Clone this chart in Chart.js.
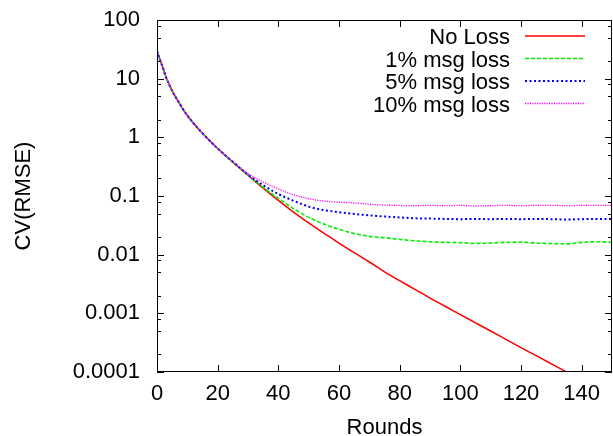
<!DOCTYPE html>
<html>
<head>
<meta charset="utf-8">
<title>CV(RMSE) vs Rounds</title>
<script src="https://cdn.jsdelivr.net/npm/chart.js@4/dist/chart.umd.min.js"></script>
<style>
  html, body { margin: 0; padding: 0; background: #fff; }
  canvas { display: block; }
</style>
</head>
<body>
<canvas id="cv" width="613" height="436"></canvas>
<script>
// ── Data ─────────────────────────────────────────────────────────
const ROUNDS = [0, 1, 2, 3, 4, 5, 7, 10, 15, 20, 25, 30, 35, 40, 45, 50, 55, 60, 65, 70,
    75, 80, 85, 90, 95, 100, 105, 110, 115, 120, 125, 130, 135, 140, 145, 150];

const NO_LOSS = [29.5, 21, 15, 10.5, 8.0, 6.2, 4.1, 2.35, 1.17, 0.646, 0.376, 0.226, 0.136,
    0.084, 0.053, 0.0347, 0.0232, 0.0158, 0.0108, 0.0075, 0.0051, 0.0036, 0.00257, 0.00182,
    0.00132, 0.00095, 0.00069, 0.00050, 0.00036, 0.00026, 0.00019, 0.000138, 0.0001,
    0.0000724, 0.0000525, 0.000038];

const LOSS_1 = [29.5, 21, 15, 10.5, 8.0, 6.2, 4.1, 2.35, 1.17, 0.646, 0.378, 0.228, 0.141,
    0.091, 0.061, 0.0432, 0.0333, 0.0271, 0.0230, 0.0205, 0.0195, 0.0182, 0.0172, 0.0166,
    0.0162, 0.0160, 0.0155, 0.0158, 0.0162, 0.0164, 0.0158, 0.0155, 0.0153, 0.0162, 0.0166,
    0.0162];

const LOSS_5 = [29.5, 21, 15, 10.5, 8.0, 6.2, 4.1, 2.35, 1.17, 0.646, 0.382, 0.232, 0.153,
    0.108, 0.083, 0.066, 0.0575, 0.053, 0.0495, 0.0468, 0.0447, 0.0432, 0.0417, 0.0412,
    0.0407, 0.0403, 0.0407, 0.0403, 0.0407, 0.0403, 0.0407, 0.0403, 0.0398, 0.0403, 0.0407,
    0.0407];

const LOSS_10 = [29.5, 21, 15, 10.5, 8.0, 6.2, 4.1, 2.35, 1.17, 0.65, 0.39, 0.242, 0.174,
    0.132, 0.105, 0.090, 0.082, 0.0785, 0.076, 0.0725, 0.070, 0.069, 0.0684, 0.0692, 0.0684,
    0.0692, 0.0676, 0.0684, 0.0692, 0.0684, 0.0692, 0.0692, 0.0684, 0.0692, 0.0692, 0.0692];

const SERIES_LABELS = ['No Loss', '1% msg loss', '5% msg loss', '10% msg loss'];

const X_TICKS = [0, 20, 40, 60, 80, 100, 120, 140];
const Y_TICKS = [0.0001, 0.001, 0.01, 0.1, 1, 10, 100];
const Y_MINOR = [2, 5, 8];

// ── Styles ───────────────────────────────────────────────────────
const FONT = '"Liberation Sans", Arial, Helvetica, sans-serif';
const STYLES = [
    { color: '#ff0000', dash: [], width: 1.5 },
    { color: '#00ee00', dash: [4, 2], width: 1.6 },
    { color: '#0000ff', dash: [2, 2.5], width: 2 },
    { color: '#ff00ff', dash: [1.2, 1.2], width: 1.3 },
];

Chart.defaults.font.family = FONT;
Chart.defaults.font.size = 22;
Chart.defaults.color = '#000';

function _points(values) {
    return ROUNDS.map((r, i) => ({ x: r, y: values[i] }));
}

// ── Plugins: gnuplot-like frame with inward ticks, right-aligned key ──
const frameTicks = {
    id: 'frameTicks',
    afterDatasetsDraw(chart) {
        const { ctx, chartArea: a, scales: { x, y } } = chart;
        ctx.save();
        ctx.strokeStyle = '#000';
        ctx.lineWidth = 1;
        ctx.strokeRect(a.left + 0.5, a.top + 0.5, a.right - a.left - 1, a.bottom - a.top - 1);
        ctx.beginPath();
        for (const v of X_TICKS) {
            const px = Math.round(x.getPixelForValue(v)) + 0.5;
            ctx.moveTo(px, a.bottom); ctx.lineTo(px, a.bottom - 7);
            ctx.moveTo(px, a.top); ctx.lineTo(px, a.top + 7);
        }
        for (const v of Y_TICKS) {
            const py = Math.round(y.getPixelForValue(v)) + 0.5;
            ctx.moveTo(a.left, py); ctx.lineTo(a.left + 7, py);
            ctx.moveTo(a.right, py); ctx.lineTo(a.right - 7, py);
        }
        for (let k = -4; k <= 1; k++) {
            for (const m of Y_MINOR) {
                const py = Math.round(y.getPixelForValue(m * Math.pow(10, k))) + 0.5;
                ctx.moveTo(a.left, py); ctx.lineTo(a.left + 4, py);
                ctx.moveTo(a.right, py); ctx.lineTo(a.right - 4, py);
            }
        }
        ctx.stroke();
        ctx.restore();
    },
};

const rightKey = {
    id: 'rightKey',
    afterDraw(chart) {
        const { ctx } = chart;
        ctx.save();
        ctx.font = '22px ' + FONT;
        ctx.textAlign = 'right';
        ctx.textBaseline = 'alphabetic';
        chart.data.datasets.forEach((ds, i) => {
            const base = 44 + i * 22.5;
            // white backing behind the key text, as in the original
            const w = ctx.measureText(ds.label).width;
            ctx.fillStyle = '#fff';
            ctx.fillRect(510 - w - 2, base - 17, w + 4, 21);
            ctx.fillStyle = '#000';
            ctx.fillText(ds.label, 510, base);
            ctx.strokeStyle = ds.borderColor;
            ctx.lineWidth = ds.borderWidth;
            ctx.setLineDash(ds.borderDash);
            ctx.beginPath();
            ctx.moveTo(525, base - 8);
            ctx.lineTo(585, base - 8);
            ctx.stroke();
        });
        ctx.restore();
    },
};

// ── Chart ────────────────────────────────────────────────────────
const SERIES = [NO_LOSS, LOSS_1, LOSS_5, LOSS_10];

new Chart(document.getElementById('cv'), {
    type: 'line',
    data: {
        datasets: SERIES.map((vals, i) => ({
            label: SERIES_LABELS[i],
            data: _points(vals),
            borderColor: STYLES[i].color,
            borderDash: STYLES[i].dash,
            borderWidth: STYLES[i].width,
            pointRadius: 0,
            fill: false,
            cubicInterpolationMode: 'monotone',
            order: 4 - i,
        })),
    },
    options: {
        responsive: false,
        animation: false,
        layout: { padding: { left: 0, right: 1, top: 20, bottom: 0 } },
        plugins: { legend: { display: false }, tooltip: { enabled: false } },
        scales: {
            x: {
                type: 'linear',
                min: 0,
                max: 150,
                grid: { display: false, drawTicks: false },
                border: { display: false },
                afterBuildTicks: s => { s.ticks = X_TICKS.map(v => ({ value: v })); },
                afterFit: s => { s.height = 64; s.paddingLeft = 0; s.paddingRight = 0; },
                ticks: { padding: 9, autoSkip: false, maxRotation: 0 },
                title: {
                    display: true,
                    text: 'Rounds',
                    font: { size: 22, lineHeight: 1 },
                    padding: { top: 0, bottom: -3 },
                },
            },
            y: {
                type: 'logarithmic',
                min: 0.0001,
                max: 100,
                grid: { display: false, drawTicks: false },
                border: { display: false },
                afterBuildTicks: s => { s.ticks = Y_TICKS.map(v => ({ value: v })); },
                afterFit: s => { s.width = 157; s.paddingTop = 0; s.paddingBottom = 0; },
                ticks: { padding: 17, autoSkip: false, callback: v => String(v) },
                title: {
                    display: true,
                    text: 'CV(RMSE)',
                    font: { size: 22, lineHeight: 1 },
                    padding: { top: 13, bottom: 0 },
                },
            },
        },
    },
    plugins: [frameTicks, rightKey],
});
</script>
</body>
</html>
